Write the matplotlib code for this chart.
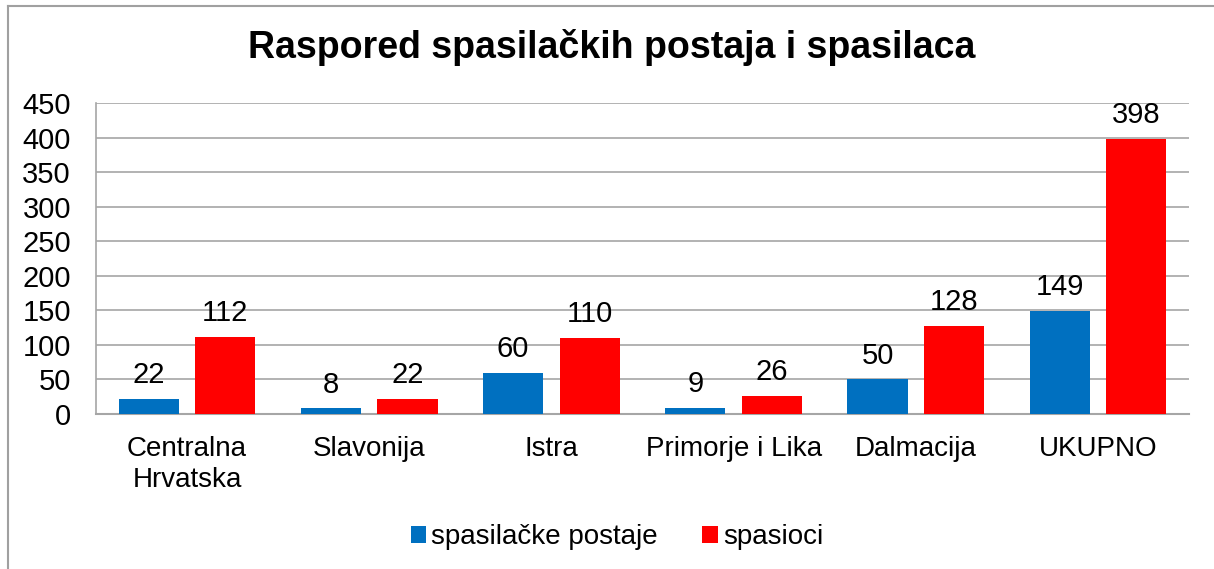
import numpy as np
import matplotlib.pyplot as plt
from matplotlib.lines import Line2D

plt.rcParams['font.family'] = ['Liberation Sans', 'DejaVu Sans']

# ------------------------------------------------------------
# podaci
# ------------------------------------------------------------
categories = ["Centralna\nHrvatska", "Slavonija", "Istra", "Primorje i Lika", "Dalmacija", "UKUPNO"]
postaje = [22, 8, 60, 9, 50, 149]
spasioci = [112, 22, 110, 26, 128, 398]
y_ticks = [0, 50, 100, 150, 200, 250, 300, 350, 400, 450]

BLUE = "#0070C0"
RED = "#FF0000"
GRID = "#A6A6A6"

fig = plt.figure(figsize=(12.14, 5.69), dpi=100)
ax = fig.add_axes([96 / 1214, 1 - 414 / 569, (1189 - 96) / 1214, (414 - 103) / 569])

x = np.arange(len(categories))
w = 0.33
off = 0.21

b1 = ax.bar(x - off, postaje, w, color=BLUE, label="spasilačke postaje", zorder=3)
b2 = ax.bar(x + off, spasioci, w, color=RED, label="spasioci", zorder=3)

for bars in (b1, b2):
    for r in bars:
        ax.annotate(f"{int(r.get_height())}",
                    (r.get_x() + r.get_width() / 2, r.get_height()),
                    xytext=(0, 7), textcoords="offset points",
                    ha="center", va="bottom", fontsize=21)

ax.set_xlim(-0.5, len(categories) - 0.5)
ax.set_ylim(0, 450)
ax.set_yticks(y_ticks)
ax.set_xticks(x)
ax.set_xticklabels(categories, fontsize=20, linespacing=1.25)
ax.tick_params(axis="y", labelsize=21, length=0, pad=18)
ax.tick_params(axis="x", length=0, pad=16)
ax.yaxis.grid(True, color=GRID, linewidth=1.2, zorder=0)

for s in ("top", "right"):
    ax.spines[s].set_visible(False)
ax.spines["left"].set_color(GRID)
ax.spines["bottom"].set_color(GRID)
ax.spines["left"].set_linewidth(1.2)
ax.spines["bottom"].set_linewidth(1.5)

fig.text(612 / 1214, 1 - 48 / 569, "Raspored spasilačkih postaja i spasilaca",
         ha="center", va="center", fontsize=27, fontweight="bold")

fig.legend(handles=[b1, b2], loc="center", bbox_to_anchor=(617 / 1214, 1 - 537 / 569),
           ncol=2, frameon=False, fontsize=20, handlelength=0.55, handleheight=0.55,
           handletextpad=0.2, columnspacing=1.6)

# okvir grafikona (desni i donji rub izvan slike)
fig.add_artist(Line2D([8 / 1214, 8 / 1214], [0, 1 - 6 / 569], transform=fig.transFigure,
                      color="#A0A0A0", linewidth=1.5))
fig.add_artist(Line2D([8 / 1214, 1], [1 - 6 / 569, 1 - 6 / 569], transform=fig.transFigure,
                      color="#A0A0A0", linewidth=1.5))

fig.savefig("out.png", dpi=100)
